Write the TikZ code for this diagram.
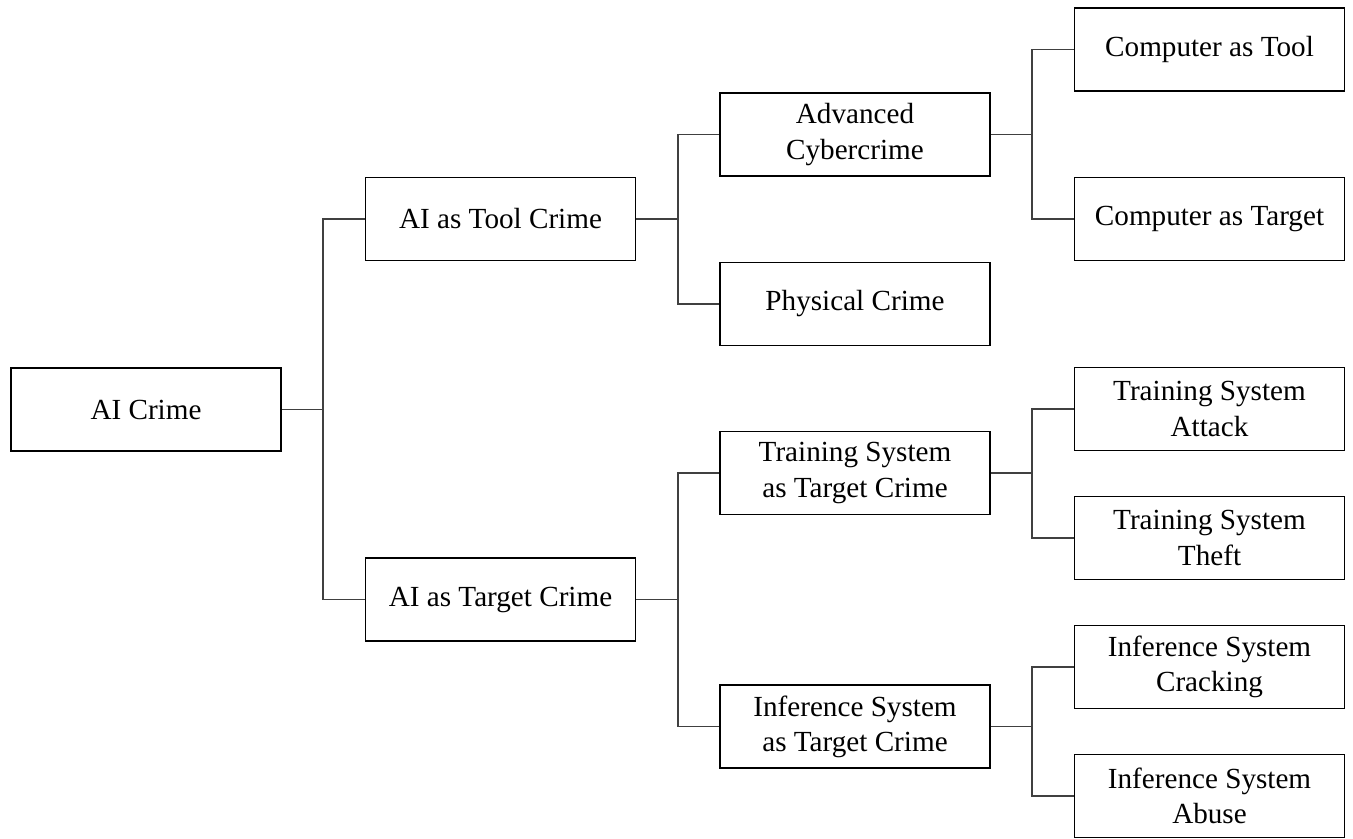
\documentclass[tikz,border=0pt]{standalone}
\usepackage{fontspec}
\setmainfont{Liberation Serif}
\usetikzlibrary{positioning}

\tikzset{
	crimebox/.style = {draw, line width = 1.1pt, rectangle, minimum width = 5.4cm, minimum height = 1.66cm, align = center, font = \fontsize{16.6}{20}\selectfont},
	branch/.style = {black!75, line width = 0.6pt}
}

\begin{document}
\begin{tikzpicture}
	\useasboundingbox (0,0) rectangle (27.06,-16.76);
	% levels
	\node [crimebox] (root) at (2.92,-8.19) {AI Crime};
	\node [crimebox] (tool) at (10.01,-4.38) {AI as Tool Crime};
	\node [crimebox] (target) at (10.01,-11.99) {AI as Target Crime};
	\node [crimebox] (adv) at (17.10,-2.69) {Advanced\\Cybercrime};
	\node [crimebox] (phys) at (17.10,-6.08) {Physical Crime};
	\node [crimebox] (train) at (17.10,-9.46) {Training System\\as Target Crime};
	\node [crimebox] (infer) at (17.10,-14.53) {Inference System\\as Target Crime};
	\node [crimebox] (comptool) at (24.19,-0.99) {Computer as Tool};
	\node [crimebox] (comptarget) at (24.19,-4.38) {Computer as Target};
	\node [crimebox] (tattack) at (24.19,-8.18) {Training System\\Attack};
	\node [crimebox] (ttheft) at (24.19,-10.76) {Training System\\Theft};
	\node [crimebox] (icrack) at (24.19,-13.34) {Inference System\\Cracking};
	\node [crimebox] (iabuse) at (24.19,-15.92) {Inference System\\Abuse};
	% branches
	\coordinate (bus1) at (6.46,0);
	\coordinate (bus2) at (13.56,0);
	\coordinate (bus3) at (20.64,0);
	\foreach \up/\kid/\bus in {root/tool/bus1, root/target/bus1, tool/adv/bus2, tool/phys/bus2, target/train/bus2, target/infer/bus2, adv/comptool/bus3, adv/comptarget/bus3, train/tattack/bus3, train/ttheft/bus3, infer/icrack/bus3, infer/iabuse/bus3}
		\draw [branch] (\up.east) -| (\bus |- \kid.west) -- (\kid.west);
\end{tikzpicture}
\end{document}
